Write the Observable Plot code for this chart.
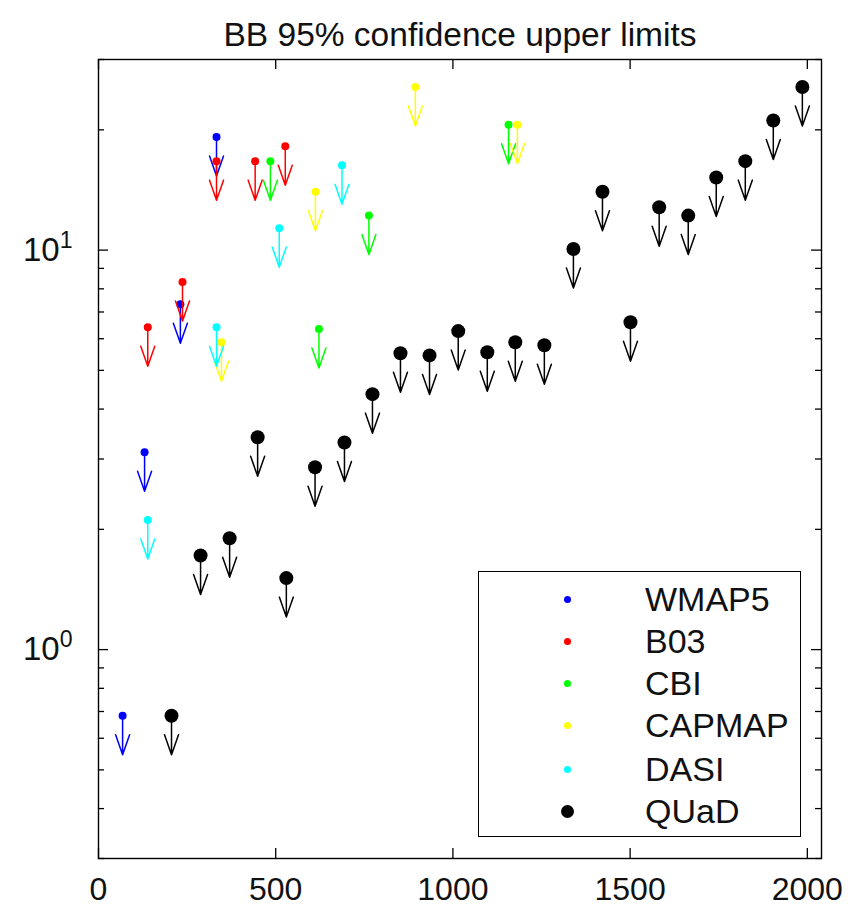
<!DOCTYPE html>
<html><head><meta charset="utf-8">
<script src="https://cdn.jsdelivr.net/npm/d3@7"></script>
<script src="https://cdn.jsdelivr.net/npm/@observablehq/plot@0.6"></script>
<style>
body{margin:0;background:#fff;}
#wrap{position:relative;width:867px;height:909px;font-family:"Liberation Sans",Arial,sans-serif;}
#legend{position:absolute;left:478px;top:571px;width:323px;height:266px;border:1.5px solid #000;box-sizing:border-box;background:#fff;}
.row{position:absolute;left:0;width:100%;height:0;}
.dot{position:absolute;border-radius:50%;}
.lab{position:absolute;left:166px;top:-20px;font-size:34px;line-height:40px;color:#111;white-space:nowrap;}
</style>
</head><body>
<div id="wrap"><div id="chart"></div><div id="legend"></div></div>
<script>
const title = "BB 95% confidence upper limits";
const names = ["WMAP5","B03","CBI","CAPMAP","DASI","QUaD"];
const colors = ["#0000ff","#ff0000","#00ff00","#ffff00","#00ffff","#000000"];

const wmap5L = [68,130,231,333];
const wmap5V = [0.683,3.12,7.32,19.2];
const b03L = [139,237,333,442,527];
const b03V = [6.41,8.32,16.7,16.7,18.2];
const cbiL = [485,622,763,1157];
const cbiV = [16.7,6.35,12.2,20.6];
const capmapL = [347,612,894,1182];
const capmapV = [5.88,14.0,25.6,20.6];
const dasiL = [139,333,510,687];
const dasiV = [2.11,6.41,11.35,16.3];
const quadL = [206,288,370,449,530,611,694,773,852,934,1015,1097,1176,1258,1340,1422,1501,1582,1664,1743,1825,1904,1986];
const quadV = [0.683,1.72,1.90,3.40,1.51,2.86,3.30,4.36,5.52,5.45,6.27,5.55,5.88,5.78,10.06,14.0,6.60,12.8,12.2,15.2,16.7,21.1,25.6];

const xTicks = [0,500,1000,1500,2000];
const yMajor = [1,10];
const yMinor = [0.3,0.4,0.5,0.6,0.7,0.8,0.9,2,3,4,5,6,7,8,9,20,30];

const seriesL = [wmap5L,b03L,cbiL,capmapL,dasiL,quadL];
const seriesV = [wmap5V,b03V,cbiV,capmapV,dasiV,quadV];
const series = names.map((n,i)=>({name:n,color:colors[i],rows:seriesL[i].map((l,j)=>({l,v:seriesV[i][j]}))}));

const W = 867, H = 909, mT = 59, mB = 51, mL = 98, mR = 46;
const fw = W - mL - mR, fh = H - mT - mB;

const downArrow = {
  draw(ctx, l, r){
    ctx.moveTo(0,0); ctx.lineTo(0,-l);
    ctx.moveTo(-7,-l+20); ctx.lineTo(0,-l); ctx.lineTo(7,-l+20);
  }
};

const marks = [];
const tk = {stroke:"black",strokeWidth:1.3};
marks.push(Plot.ruleY(yMajor,{y:d=>d,insetRight:fw-10,...tk}));
marks.push(Plot.ruleY(yMinor,{y:d=>d,insetRight:fw-6,...tk}));
marks.push(Plot.ruleY(yMajor,{y:d=>d,insetLeft:fw-10,...tk}));
marks.push(Plot.ruleY(yMinor,{y:d=>d,insetLeft:fw-6,...tk}));
marks.push(Plot.ruleX(xTicks,{x:d=>d,insetTop:fh-10,...tk}));
marks.push(Plot.ruleX(xTicks,{x:d=>d,insetBottom:fh-10,...tk}));
marks.push(Plot.frame({stroke:"black",strokeWidth:1.4}));
marks.push(Plot.axisX({ticks:xTicks,tickSize:0,tickPadding:19,fontSize:32,label:null,tickFormat:d=>String(d)}));
marks.push(Plot.axisY({ticks:yMajor,tickSize:0,tickPadding:26,fontSize:33,label:null,tickFormat:d=>"10^"+Math.round(Math.log10(d))}));
marks.push(Plot.text([title],{frameAnchor:"top",dy:-37,fontSize:33.5,fill:"#111"}));
for (const s of series) {
  const big = s.name === "QUaD";
  marks.push(Plot.vector(s.rows,{x:"l",y:"v",rotate:180,length:39,anchor:"start",shape:downArrow,stroke:s.color,strokeWidth:1.5}));
  marks.push(Plot.dot(s.rows,{x:"l",y:"v",r:big?7:4,fill:s.color,stroke:"none"}));
}

const svg = Plot.plot({
  width:W,height:H,
  marginTop:mT,marginBottom:mB,marginLeft:mL,marginRight:mR,
  x:{domain:[0,2040]},
  y:{type:"log",domain:[0.3,30]},
  style:{fontFamily:'"Liberation Sans",Arial,sans-serif',background:"white",color:"#111"},
  marks
});
d3.select(svg).selectAll('g[aria-label="y-axis tick label"] text').each(function(){
  const t = this.textContent; const [b,e] = t.split("^");
  this.textContent = "";
  d3.select(this).append("tspan").text(b);
  d3.select(this).append("tspan").attr("dy","-0.55em").attr("font-size","0.7em").text(e);
});
document.getElementById("chart").appendChild(svg);

// legend
const lg = document.getElementById("legend");
const rowY = [27,69,111,153,197,239];
series.forEach((s,i)=>{
  const row = document.createElement("div");
  row.className="row"; row.style.top = rowY[i]+"px";
  const d = document.createElement("div"); d.className="dot";
  const r = s.name==="QUaD"?6.5:3.5;
  d.style.width=d.style.height=(2*r)+"px"; d.style.left=(88-r)+"px"; d.style.top=(-r)+"px";
  d.style.background=s.color;
  const t = document.createElement("div"); t.className="lab"; t.textContent=s.name;
  row.appendChild(d); row.appendChild(t); lg.appendChild(row);
});
</script>
</body></html>
